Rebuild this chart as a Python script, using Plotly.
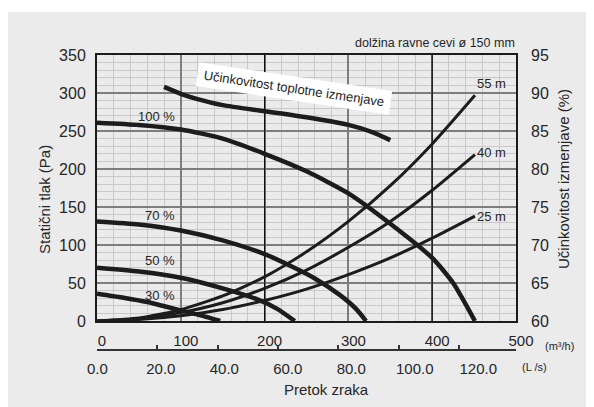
import plotly.graph_objects as go

# ---------------- data ----------------
# fan curves: airflow (m3/h) vs static pressure (Pa)
fan100_x = [0, 50, 100, 150, 200, 250, 300, 350, 400, 425, 451]
fan100_y = [261, 258, 252, 240, 220, 197, 168, 128, 83, 50, 0]
fan70_x = [0, 50, 100, 150, 200, 230, 260, 290, 310, 321]
fan70_y = [131, 127, 119, 106, 88, 73, 56, 34, 15, 0]
fan50_x = [0, 50, 100, 150, 190, 215, 236]
fan50_y = [70, 65, 57, 43, 29, 16, 0]
fan30_x = [0, 30, 60, 100, 125, 147]
fan30_y = [36, 31, 25, 14, 7, 0]

# duct system curves (length of straight duct)
sys_x = [0, 50, 100, 150, 200, 250, 300, 350, 400, 451]
sys55_y = [0, 4, 15, 33, 58, 91, 131, 178, 233, 297]
sys40_y = [0, 3, 11, 24, 43, 67, 97, 131, 172, 219]
sys25_y = [0, 2, 7, 15, 27, 42, 61, 83, 109, 138]

# heat exchange efficiency (%)
eff_x = [80, 100, 120, 150, 200, 250, 300, 330, 350]
eff_y = [90.8, 89.9, 89.2, 88.4, 87.6, 86.8, 85.8, 84.8, 83.8]

# axes
x_range = [0, 500]
x_ticks = [0, 100, 200, 300, 400, 500]
y_range = [0, 350]
y_ticks = [0, 50, 100, 150, 200, 250, 300, 350]
y2_range = [60, 95]
y2_ticks = [60, 65, 70, 75, 80, 85, 90, 95]
lps_ticks = [0, 20, 40, 60, 80, 100, 120]
dark_vlines = [200, 400]

fan_labels = ["100 %", "70 %", "50 %", "30 %"]
fan_label_pos = [(95, 269), (95, 139), (95, 79.5), (95, 34)]
sys_labels = ["55 m", "40 m", "25 m"]
sys_label_pos = [(490, 313), (490, 222), (490, 137.5)]

# ---------------- layout geometry (page pixels; page body margin is 8 px) ----------------
OFF = 8
W, H = 594 - OFF, 407 - OFF
PL, PR, PT = 97, 516, 55          # plot area edges on the page
PAPER_BOTTOM = 387                # page y of paper bottom
ML, MR, MT = PL - OFF, (W + OFF) - PR, PT - OFF
MB = (H + OFF) - PAPER_BOTTOM
PW = PR - PL
PH = PAPER_BOTTOM - PT
PLOT_BOTTOM = 321


def fx(px):
    return (px - PL) / PW


def fy(py):
    return (PAPER_BOTTOM - py) / PH


FONT = "Liberation Sans, Arial, sans-serif"
INK = "#1c1c1c"
TXT = "#262626"
BG = "#ebebec"

fig = go.Figure()


def add_line(x, y, width, yaxis="y"):
    fig.add_trace(go.Scatter(x=x, y=y, mode="lines", yaxis=yaxis,
                             line=dict(color=INK, width=width, shape="spline", smoothing=0.6),
                             hoverinfo="skip", showlegend=False))


for yy in (sys55_y, sys40_y, sys25_y):
    add_line(sys_x, yy, 3)
add_line(fan100_x, fan100_y, 4.5)
add_line(fan70_x, fan70_y, 4.5)
add_line(fan50_x, fan50_y, 4.5)
add_line(fan30_x, fan30_y, 4.5)
add_line(eff_x, eff_y, 4.5, yaxis="y2")

# invisible anchors for the L/s axes
fig.add_trace(go.Scatter(x=lps_ticks, y=[0] * len(lps_ticks), xaxis="x2", mode="markers",
                         marker=dict(opacity=0), hoverinfo="skip", showlegend=False))
fig.add_trace(go.Scatter(x=lps_ticks, y=[0] * len(lps_ticks), xaxis="x3", mode="markers",
                         marker=dict(opacity=0), hoverinfo="skip", showlegend=False))

y_dom0 = fy(PLOT_BOTTOM)
lps_line_pos = fy(350)

fig.update_layout(
    width=W, height=H,
    margin=dict(l=ML, r=MR, t=MT, b=MB, pad=0, autoexpand=False),
    paper_bgcolor=BG, plot_bgcolor=BG,
    font=dict(family=FONT, color=TXT),
    showlegend=False,
    xaxis=dict(range=x_range, tickvals=x_ticks, ticks="", showgrid=True,
               gridcolor="#7d7d7d", gridwidth=1.8, zeroline=False,
               minor=dict(dtick=20, showgrid=True, gridcolor="#c9c9c9", gridwidth=1.3),
               showline=True, linecolor=INK, linewidth=2, mirror=True,
               tickfont=dict(size=15, color=TXT), ticklabelstandoff=5, ticklabelshift=5,
               anchor="y", automargin=False),
    xaxis2=dict(range=[-0.1, 131.9], tickvals=lps_ticks, tickformat=".1f", overlaying="x",
                anchor="free", position=lps_line_pos, side="bottom", showgrid=False,
                zeroline=False, showline=False, ticks="", ticklabelstandoff=8,
                tickfont=dict(size=15, color=TXT), automargin=False),
    xaxis3=dict(range=[0, 500 / 3.6], tickvals=lps_ticks, overlaying="x",
                anchor="free", position=lps_line_pos, side="bottom", showgrid=False,
                zeroline=False, showline=True, linecolor="#333", linewidth=1.5,
                ticks="inside", ticklen=4, tickwidth=1.5, tickcolor="#333",
                showticklabels=False, automargin=False),
    yaxis=dict(range=y_range, tickvals=y_ticks, domain=[y_dom0, 1], ticks="",
               showgrid=True, gridcolor="#7d7d7d", gridwidth=1.8, zeroline=False,
               minor=dict(dtick=10, showgrid=True, gridcolor="#c9c9c9", gridwidth=1.3),
               showline=True, linecolor=INK, linewidth=2, mirror=True,
               tickfont=dict(size=16, color=TXT), ticklabelstandoff=6, automargin=False),
    yaxis2=dict(range=y2_range, tickvals=y2_ticks, overlaying="y", side="right",
                showgrid=False, zeroline=False, ticks="", showline=False,
                tickfont=dict(size=16, color=TXT), ticklabelstandoff=14, automargin=False),
)

shapes = [
    # thin white band above the grey panel
    dict(type="rect", xref="paper", yref="paper", x0=fx(0), x1=fx(W + 2 * OFF), y0=fy(12), y1=fy(OFF),
         fillcolor="white", line=dict(width=0), layer="below"),
]
for v in dark_vlines:
    shapes.append(dict(type="line", xref="x", yref="y", x0=v, x1=v, y0=y_range[0], y1=y_range[1],
                       line=dict(color="#111", width=1.2), layer="between"))
fig.update_layout(shapes=shapes)

ann = []
for t, (ax_, ay_) in zip(fan_labels, fan_label_pos):
    ann.append(dict(text=t, x=ax_, y=ay_, xref="x", yref="y", xanchor="right", yanchor="middle",
                    showarrow=False, font=dict(size=13, color=TXT)))
for t, (ax_, ay_) in zip(sys_labels, sys_label_pos):
    ann.append(dict(text=t, x=ax_, y=ay_, xref="x", yref="y", xanchor="right", yanchor="middle",
                    showarrow=False, font=dict(size=13, color=TXT)))
ann.append(dict(text="Učinkovitost toplotne izmenjave", x=235, y=306, xref="x", yref="y",
                xanchor="center", yanchor="middle", showarrow=False, textangle=8.5,
                bgcolor="white", width=190, height=19, borderpad=2,
                font=dict(size=13, color=TXT)))
ann.append(dict(text="dolžina ravne cevi ø 150 mm", x=fx(517), y=fy(43), xref="paper", yref="paper",
                xanchor="right", yanchor="middle", showarrow=False, font=dict(size=12.5, color=TXT)))
ann.append(dict(text="Statični tlak (Pa)", x=fx(44), y=fy(200), xref="paper", yref="paper",
                xanchor="center", yanchor="middle", textangle=-90, showarrow=False,
                font=dict(size=15, color=TXT)))
ann.append(dict(text="Učinkovitost izmenjave (%)", x=fx(563), y=fy(179), xref="paper", yref="paper",
                xanchor="center", yanchor="middle", textangle=-90, showarrow=False,
                font=dict(size=15, color=TXT)))
ann.append(dict(text="Pretok zraka", x=fx(326), y=fy(390), xref="paper", yref="paper",
                xanchor="center", yanchor="middle", showarrow=False, font=dict(size=15, color=TXT)))
ann.append(dict(text="(m³/h)", x=fx(559), y=fy(346), xref="paper", yref="paper",
                xanchor="center", yanchor="middle", showarrow=False, font=dict(size=11, color=TXT)))
ann.append(dict(text="(L /s)", x=fx(534.5), y=fy(367), xref="paper", yref="paper",
                xanchor="center", yanchor="middle", showarrow=False, font=dict(size=11, color=TXT)))
fig.update_layout(annotations=ann)

fig.write_html("out.html")
